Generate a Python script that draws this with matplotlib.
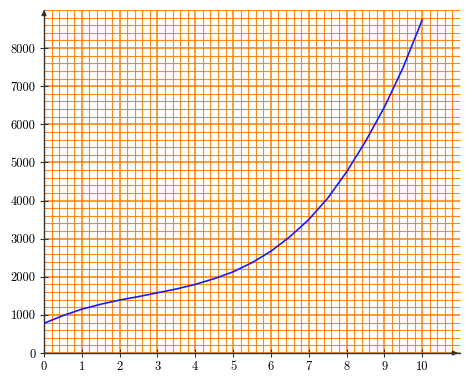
import matplotlib
matplotlib.use("Agg")
import matplotlib.pyplot as plt
from matplotlib.ticker import MultipleLocator

x_vals = [0, 0.5, 1, 1.5, 2, 2.5, 3, 3.5, 4, 4.5, 5, 5.5, 6, 6.5, 7, 7.5, 8, 8.5, 9, 9.5, 10]
y_vals = [780, 980, 1150, 1280, 1390, 1480, 1580, 1680, 1800, 1950, 2130, 2370, 2670,
          3050, 3500, 4060, 4750, 5550, 6450, 7500, 8740]
x_ticks = [0, 1, 2, 3, 4, 5, 6, 7, 8, 9, 10]
y_ticks = [0, 1000, 2000, 3000, 4000, 5000, 6000, 7000, 8000]

plt.rcParams['font.family'] = ['cmr10', 'DejaVu Serif']
plt.rcParams['axes.formatter.use_mathtext'] = False

fig = plt.figure(figsize=(4.71, 3.91), dpi=100)
ax = fig.add_axes([44 / 471, (391 - 353) / 391, (460 - 44) / 471, (353 - 10) / 391])

ax.plot(x_vals, y_vals, color='#1a1aff', lw=1.2, zorder=3)

ax.set_xlim(0, 11)
ax.set_ylim(0, 9000)
ax.set_xticks(x_ticks)
ax.set_yticks(y_ticks)
ax.xaxis.set_minor_locator(MultipleLocator(0.2))
ax.yaxis.set_minor_locator(MultipleLocator(200))

orange = '#ff8000'
ax.grid(which='major', color=orange, lw=1.1, alpha=1.0)
ax.grid(which='minor', color=orange, lw=0.8, alpha=0.9)
ax.set_axisbelow(True)

for s in ['top', 'right']:
    ax.spines[s].set_visible(False)
for s in ['left', 'bottom']:
    ax.spines[s].set_color('#333333')
    ax.spines[s].set_linewidth(1.0)

ax.tick_params(which='major', direction='inout', length=6, width=0.8, color='#333333',
               labelsize=9, pad=3)
ax.tick_params(which='minor', length=0)

# axis arrows
ax.annotate('', xy=(0.995, 0), xycoords='axes fraction', xytext=(0.98, 0),
            arrowprops=dict(arrowstyle='-|>', color='#333333', lw=1.0,
                            mutation_scale=7, shrinkA=0, shrinkB=0))
ax.annotate('', xy=(0, 1.0), xycoords='axes fraction', xytext=(0, 0.985),
            arrowprops=dict(arrowstyle='-|>', color='#333333', lw=1.0,
                            mutation_scale=7, shrinkA=0, shrinkB=0))

fig.savefig('out.png', dpi=100)
